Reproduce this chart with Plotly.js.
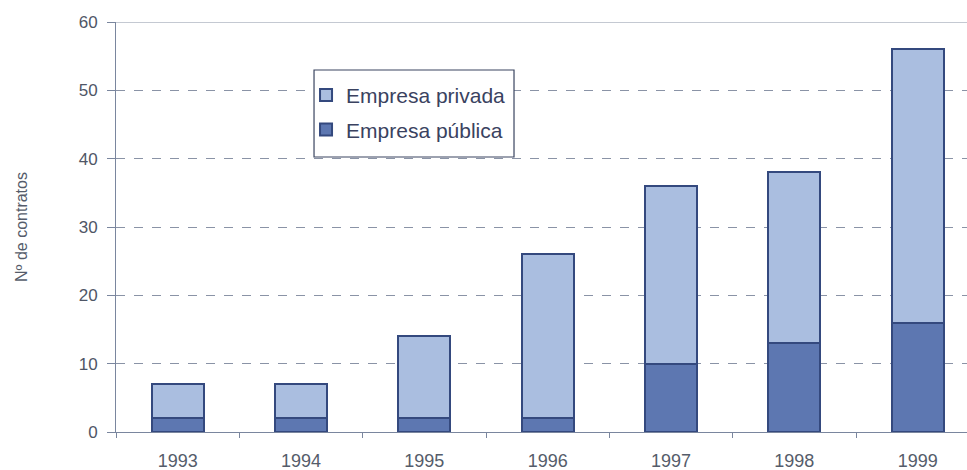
<!DOCTYPE html>
<html>
<head>
<meta charset="utf-8">
<script src="https://cdn.plot.ly/plotly-3.0.1.min.js"></script>
<style>html,body{margin:0;padding:0;background:#fff;}#chart{width:967px;height:470px;}</style>
</head>
<body>
<div id="chart"></div>
<script>
const years = ['1993','1994','1995','1996','1997','1998','1999'];
const publica = [2, 2, 2, 2, 10, 13, 16];
const privada = [5, 5, 12, 24, 26, 25, 40];
const yTicks = [0, 10, 20, 30, 40, 50, 60];

const outline = {color: '#34497e', width: 2};
const traces = [
  {type: 'bar', name: 'Empresa pública', legendgroup: 'pub', legendrank: 2, x: years, y: publica,
   marker: {color: '#5d77b1', line: outline}, width: 0.42},
  {type: 'bar', name: 'Empresa privada', legendgroup: 'priv', legendrank: 1, x: years, y: privada,
   marker: {color: '#aabee0', line: outline}, width: 0.42}
];

const layout = {
  width: 967, height: 470,
  margin: {l: 116, r: 0, t: 22, b: 38},
  paper_bgcolor: '#fff', plot_bgcolor: '#fff',
  barmode: 'stack',
  showlegend: true,
  legend: {
    x: 0.2233, y: 0.8708, xanchor: 'left', yanchor: 'top',
    borderwidth: 0, bgcolor: 'rgba(0,0,0,0)',
    font: {family: 'Liberation Sans, Arial, sans-serif', size: 21, color: '#3a4260'},
    traceorder: 'grouped', itemwidth: 30, tracegroupgap: 4
  },
  xaxis: {
    type: 'category', range: [-0.5, 6.4],
    showline: true, linecolor: '#7a869e', linewidth: 1,
    ticks: 'outside', tickson: 'boundaries', ticklen: 5, tickcolor: '#7a869e',
    ticklabelstandoff: 12,
    showgrid: false,
    tickfont: {family: 'Liberation Sans, Arial, sans-serif', size: 18, color: '#555c6a'},
    fixedrange: true
  },
  yaxis: {
    range: [0, 60], tickvals: yTicks, ticktext: yTicks.map(String),
    showline: true, linecolor: '#7a869e', linewidth: 1,
    ticks: 'outside', ticklen: 8, tickcolor: '#7a869e',
    ticklabelstandoff: 6,
    showgrid: true, gridcolor: '#8a93a6', griddash: 'dash', gridwidth: 1,
    zeroline: false,
    tickfont: {family: 'Liberation Sans, Arial, sans-serif', size: 17, color: '#4f5666'},
    title: {text: 'Nº de contratos', standoff: 47,
            font: {family: 'Liberation Sans Narrow, Arial Narrow, sans-serif', size: 16, color: '#555c6a'}},
    fixedrange: true
  },
  shapes: [
    {type: 'line', xref: 'paper', yref: 'y', x0: 0, x1: 1, y0: 60, y1: 60,
     line: {color: '#8a93a6', width: 1}},
    {type: 'rect', xref: 'paper', yref: 'paper', x0: 0.2327, x1: 0.4677, y0: 0.6707, y1: 0.8829,
     fillcolor: '#ffffff', line: {color: '#3a4560', width: 1.2}, layer: 'above'}
  ]
};

Plotly.newPlot('chart', traces, layout, {displayModeBar: false, staticPlot: true});
</script>
</body>
</html>
